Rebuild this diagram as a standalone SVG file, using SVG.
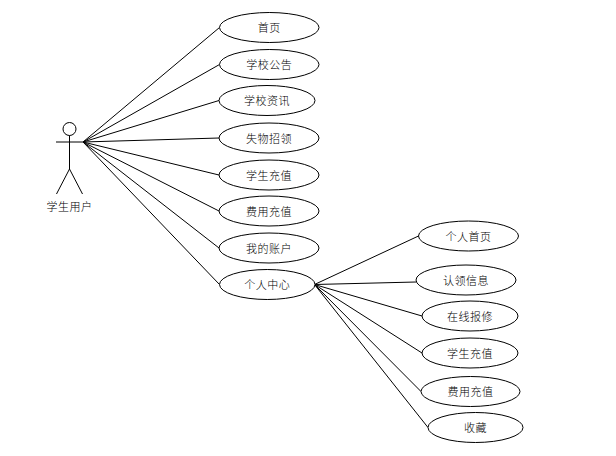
<svg xmlns="http://www.w3.org/2000/svg" width="616" height="456" viewBox="0 0 616 456">
<style>
.s{fill:#fff;stroke:#000;stroke-width:1}
.l{fill:none;stroke:#000;stroke-width:1}
text{font-family:"Noto Sans CJK SC","Noto Sans",sans-serif;font-size:11px;font-weight:300;letter-spacing:.5px;fill:#000;text-anchor:middle}
</style>
<rect width="616" height="456" fill="#fff"/>
<g id="connectors" class="l">
<path d="M83 142L219.500 27.500M83 142L219.500 64.500M83 142L219 100.500M83 142L219 138M83 142L219 175M83 142L219 211M83 142L219 248M83 142L219.500 284.500"/>
<path d="M314.500 284.500L418.500 236M314.500 284.500L416 282M314.500 284.500L422 316M314.500 284.500L422 353M314.500 284.500L421 391.500M314.500 284.500L428 427.500"/>
</g>
<g id="actor" class="l">
<circle class="s" cx="69.500" cy="129" r="6.500"/>
<path d="M69.500 135.500V169M56 142H84M69.500 169L56.500 194M69.500 169L82.500 194"/>
<text x="69.500" y="211" stroke="none">学生用户</text>
</g>
<g id="n1"><ellipse class="s" cx="269.250" cy="27.500" rx="49.750" ry="15"/><text x="269.250" y="32">首页</text></g>
<g id="n2"><ellipse class="s" cx="269.250" cy="64.500" rx="49.750" ry="15"/><text x="269.250" y="69">学校公告</text></g>
<g id="n3"><ellipse class="s" cx="267" cy="100.500" rx="48" ry="15"/><text x="267" y="105">学校资讯</text></g>
<g id="n4"><ellipse class="s" cx="269" cy="138" rx="50" ry="15"/><text x="269" y="142.500">失物招领</text></g>
<g id="n5"><ellipse class="s" cx="269" cy="175" rx="50" ry="15"/><text x="269" y="179.500">学生充值</text></g>
<g id="n6"><ellipse class="s" cx="269" cy="211" rx="50" ry="15"/><text x="269" y="215.500">费用充值</text></g>
<g id="n7"><ellipse class="s" cx="269" cy="248" rx="50" ry="15"/><text x="269" y="252.500">我的账户</text></g>
<g id="n8"><ellipse class="s" cx="267.250" cy="284.500" rx="47.750" ry="15"/><text x="267.250" y="289">个人中心</text></g>
<g id="m1"><ellipse class="s" cx="468.500" cy="236" rx="50" ry="15"/><text x="468.500" y="240.500">个人首页</text></g>
<g id="m2"><ellipse class="s" cx="466" cy="280" rx="50" ry="15"/><text x="466" y="284.500">认领信息</text></g>
<g id="m3"><ellipse class="s" cx="470" cy="316" rx="48" ry="15"/><text x="470" y="320.500">在线报修</text></g>
<g id="m4"><ellipse class="s" cx="470" cy="353" rx="48" ry="15"/><text x="470" y="357.500">学生充值</text></g>
<g id="m5"><ellipse class="s" cx="470.500" cy="391.500" rx="49.500" ry="15"/><text x="470.500" y="396">费用充值</text></g>
<g id="m6"><ellipse class="s" cx="475.500" cy="427.500" rx="47.500" ry="15"/><text x="475.500" y="432">收藏</text></g>
</svg>
